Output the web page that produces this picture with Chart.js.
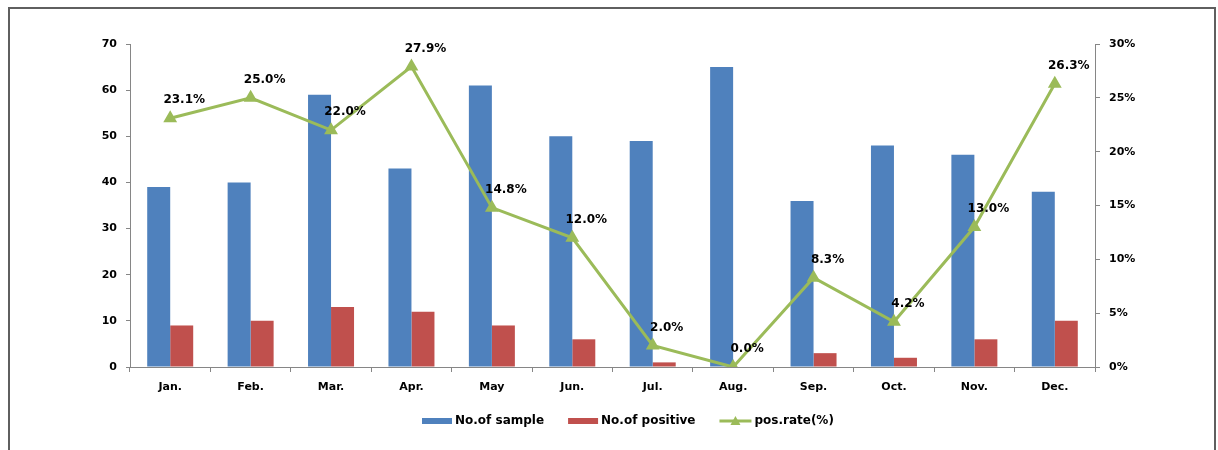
<!DOCTYPE html>
<html>
<head>
<meta charset="utf-8">
<script src="https://cdn.jsdelivr.net/npm/chart.js@4"></script>
<style>
  html, body { margin: 0; padding: 0; background: #fff; }
  #wrap { position: relative; width: 1218px; height: 450px; overflow: hidden; }
  #frame { position: absolute; left: 8px; top: 7px; width: 1208px; height: 460px;
           border: 2px solid #5f5f5f; box-sizing: border-box; }
  canvas { position: absolute; left: 0; top: 0; }
</style>
</head>
<body>
<div id="wrap">
  <div id="frame"></div>
  <canvas id="chart" width="1218" height="450"></canvas>
</div>
<script>
// ── Datos ───────────────────────────────────────────────────────────────────
const MONTHS    = ['Jan.', 'Feb.', 'Mar.', 'Apr.', 'May', 'Jun.', 'Jul.', 'Aug.', 'Sep.', 'Oct.', 'Nov.', 'Dec.'];
const SAMPLES   = [39, 40, 59, 43, 61, 50, 49, 65, 36, 48, 46, 38];
const POSITIVES = [9, 10, 13, 12, 9, 6, 1, 0, 3, 2, 6, 10];
const POS_RATE  = [23.1, 25.0, 22.0, 27.9, 14.8, 12.0, 2.0, 0.0, 8.3, 4.2, 13.0, 26.3];

const LEFT_TICKS  = [0, 10, 20, 30, 40, 50, 60, 70];
const RIGHT_TICKS = [0, 5, 10, 15, 20, 25, 30];

const BLUE  = '#4F81BD';
const RED   = '#C0504D';
const GREEN = '#9BBB59';
const AXIS  = '#868686';
const FONT  = '"DejaVu Sans", Verdana, sans-serif';

// ── Plugins ─────────────────────────────────────────────────────────────────

// etiquetas de porcentaje sobre la línea
const rateLabels = {
  id: 'rateLabels',
  afterDatasetsDraw(chart) {
    const meta = chart.getDatasetMeta(2);
    const ctx = chart.ctx;
    ctx.save();
    ctx.font = 'bold 12px ' + FONT;
    ctx.fillStyle = '#000';
    ctx.textAlign = 'center';
    ctx.textBaseline = 'middle';
    meta.data.forEach((pt, i) => {
      ctx.fillText(POS_RATE[i].toFixed(1) + '%', pt.x + 14, pt.y - 18);
    });
    ctx.restore();
  }
};

// leyenda estilo Excel (caja / línea con triángulo)
const excelLegend = {
  id: 'excelLegend',
  afterDraw(chart) {
    const ctx = chart.ctx;
    const y = 421;
    let x = 422;
    ctx.save();
    ctx.font = 'bold 12px ' + FONT;
    ctx.textBaseline = 'middle';
    ctx.textAlign = 'left';
    chart.data.datasets.forEach(ds => {
      if (ds.type === 'line') {
        ctx.strokeStyle = ds.borderColor;
        ctx.lineWidth = 3;
        ctx.beginPath();
        ctx.moveTo(x, y); ctx.lineTo(x + 32, y);
        ctx.stroke();
        ctx.fillStyle = ds.borderColor;
        ctx.beginPath();
        ctx.moveTo(x + 16, y - 5); ctx.lineTo(x + 21, y + 4); ctx.lineTo(x + 11, y + 4);
        ctx.closePath();
        ctx.fill();
        x += 35;
      } else {
        ctx.fillStyle = ds.backgroundColor;
        ctx.fillRect(x, y - 3, 30, 6);
        x += 33;
      }
      ctx.fillStyle = '#000';
      ctx.fillText(ds.label, x, y);
      x += ctx.measureText(ds.label).width + 24;
    });
    ctx.restore();
  }
};

// ── Chart ───────────────────────────────────────────────────────────────────

new Chart(document.getElementById('chart').getContext('2d'), {
  type: 'bar',
  data: {
    labels: MONTHS,
    datasets: [
      { label: 'No.of sample', data: SAMPLES, backgroundColor: BLUE, yAxisID: 'y', order: 2,
        categoryPercentage: 0.572, barPercentage: 1.0 },
      { label: 'No.of positive', data: POSITIVES, backgroundColor: RED, yAxisID: 'y', order: 2,
        categoryPercentage: 0.572, barPercentage: 1.0 },
      { type: 'line', label: 'pos.rate(%)', data: POS_RATE, yAxisID: 'y1', order: 0,
        borderColor: GREEN, backgroundColor: GREEN, borderWidth: 3, tension: 0,
        pointStyle: 'triangle', pointRadius: 5, pointBackgroundColor: GREEN, pointBorderColor: GREEN }
    ]
  },
  options: {
    responsive: false,
    animation: false,
    devicePixelRatio: 1,
    layout: { padding: { top: 44, left: 0, right: 0, bottom: 0 } },
    plugins: { legend: { display: false }, tooltip: { enabled: false } },
    scales: {
      x: {
        afterFit: s => { s.height = 83; },
        grid: { offset: true, drawOnChartArea: false, drawTicks: true, tickLength: 5, color: AXIS },
        border: { color: AXIS, width: 1 },
        ticks: { color: '#000', font: { family: FONT, size: 11, weight: 'bold' }, padding: 9, maxRotation: 0 }
      },
      y: {
        position: 'left',
        min: 0, max: 70,
        afterFit: s => { s.width = 130; },
        afterBuildTicks: s => { s.ticks = LEFT_TICKS.map(v => ({ value: v })); },
        grid: { drawOnChartArea: false, drawTicks: true, tickLength: 4, color: AXIS },
        border: { color: AXIS, width: 1 },
        ticks: { color: '#000', font: { family: FONT, size: 11, weight: 'bold' }, padding: 9 }
      },
      y1: {
        position: 'right',
        min: 0, max: 30,
        afterFit: s => { s.width = 123; },
        afterBuildTicks: s => { s.ticks = RIGHT_TICKS.map(v => ({ value: v })); },
        grid: { drawOnChartArea: false, drawTicks: true, tickLength: 5, color: AXIS },
        border: { color: AXIS, width: 1 },
        ticks: { color: '#000', font: { family: FONT, size: 11, weight: 'bold' }, padding: 9,
                 callback: v => v + '%' }
      }
    }
  },
  plugins: [rateLabels, excelLegend]
});
</script>
</body>
</html>
